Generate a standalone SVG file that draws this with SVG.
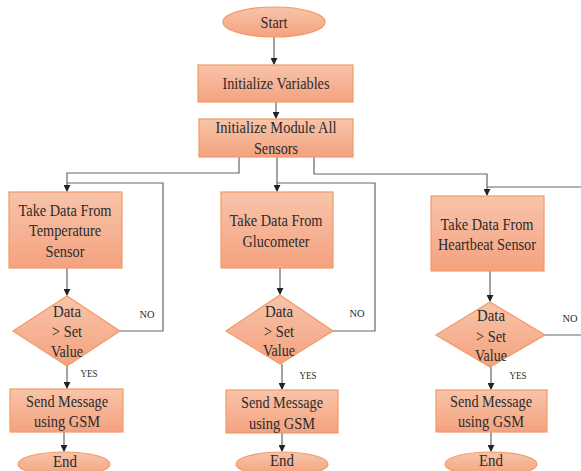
<svg xmlns="http://www.w3.org/2000/svg" width="581" height="471" viewBox="0 0 581 471">
<defs>
<linearGradient id="g" x1="0" y1="0" x2="0" y2="1">
<stop offset="0" stop-color="#f8c4aa"/>
<stop offset="1" stop-color="#f4a27f"/>
</linearGradient>
<marker id="ah" viewBox="0 0 8 8" refX="7" refY="4" markerWidth="7" markerHeight="7" markerUnits="userSpaceOnUse" orient="auto">
<path d="M0,0 L8,4 L0,8 z" fill="#222"/>
</marker>
</defs>
<style>
.s{fill:url(#g);stroke:#f29a66;stroke-width:1.2}
.t{font-family:"Liberation Serif","Times New Roman",serif;font-size:16px;fill:#2b2b2b;text-anchor:middle}
.l{font-family:"Liberation Serif","Times New Roman",serif;font-size:11px;fill:#2b2b2b;text-anchor:middle}
.c{fill:none;stroke:#666;stroke-width:1.2}
.a{marker-end:url(#ah)}
</style>
<rect width="581" height="471" fill="#fff"/>
<g id="connectors">
<path class="c a" d="M274,37 V64"/>
<path class="c a" d="M276,102 V118"/>
<path class="c a" d="M239,157 V173 H67 V191"/>
<path class="c a" d="M277,157 V191"/>
<path class="c a" d="M314,157 V174 H487 V195"/>
<path class="c a" d="M67,268 V295"/>
<path class="c" d="M120,331 H163 V183 H67"/>
<path class="c a" d="M67,366 V388"/>
<path class="c a" d="M64,432 V451"/>
<path class="c a" d="M280,268 V294"/>
<path class="c" d="M333,331 H375 V183 H277"/>
<path class="c a" d="M282,364 V389"/>
<path class="c a" d="M282,433 V451"/>
<path class="c a" d="M490,271 V301"/>
<path class="c" d="M545,335 H581"/>
<path class="c" d="M581,187 H487"/>
<path class="c a" d="M491,367 V389"/>
<path class="c a" d="M491,432 V451"/>
</g>
<g id="start"><ellipse class="s" cx="274" cy="22" rx="51" ry="15"/><text class="t" x="274" y="28" textLength="27" lengthAdjust="spacingAndGlyphs">Start</text></g>
<g id="init-vars"><rect class="s" x="198" y="65" width="155" height="37"/><text class="t" x="276" y="89" textLength="107" lengthAdjust="spacingAndGlyphs">Initialize Variables</text></g>
<g id="init-module"><rect class="s" x="199" y="119" width="154" height="38"/><text class="t" x="276" y="133" textLength="121" lengthAdjust="spacingAndGlyphs">Initialize Module All</text><text class="t" x="276" y="154" textLength="44" lengthAdjust="spacingAndGlyphs">Sensors</text></g>
<g id="temp"><rect class="s" x="9" y="192" width="113" height="76"/><text class="t" x="65" y="216" textLength="93" lengthAdjust="spacingAndGlyphs">Take Data From</text><text class="t" x="65" y="236" textLength="72" lengthAdjust="spacingAndGlyphs">Temperature</text><text class="t" x="65" y="257" textLength="39" lengthAdjust="spacingAndGlyphs">Sensor</text></g>
<g id="gluco"><rect class="s" x="221" y="192" width="112" height="76"/><text class="t" x="276" y="226" textLength="93" lengthAdjust="spacingAndGlyphs">Take Data From</text><text class="t" x="276" y="247" textLength="67" lengthAdjust="spacingAndGlyphs">Glucometer</text></g>
<g id="heart"><rect class="s" x="431" y="196" width="113" height="75"/><text class="t" x="487" y="230" textLength="93" lengthAdjust="spacingAndGlyphs">Take Data From</text><text class="t" x="487" y="250" textLength="98" lengthAdjust="spacingAndGlyphs">Heartbeat Sensor</text></g>
<g id="dec1"><polygon class="s" points="67,296 120,331 67,366 13,331"/><text class="t" x="67" y="317" textLength="28" lengthAdjust="spacingAndGlyphs">Data</text><text class="t" x="67" y="337" textLength="30" lengthAdjust="spacingAndGlyphs">&gt; Set</text><text class="t" x="67" y="357" textLength="32" lengthAdjust="spacingAndGlyphs">Value</text></g>
<g id="dec2"><polygon class="s" points="280,295 333,331 280,364 226,331"/><text class="t" x="279" y="317" textLength="28" lengthAdjust="spacingAndGlyphs">Data</text><text class="t" x="279" y="337" textLength="30" lengthAdjust="spacingAndGlyphs">&gt; Set</text><text class="t" x="279" y="356" textLength="32" lengthAdjust="spacingAndGlyphs">Value</text></g>
<g id="dec3"><polygon class="s" points="490,302 545,335 490,367 436,335"/><text class="t" x="491" y="321" textLength="28" lengthAdjust="spacingAndGlyphs">Data</text><text class="t" x="491" y="342" textLength="30" lengthAdjust="spacingAndGlyphs">&gt; Set</text><text class="t" x="491" y="361" textLength="32" lengthAdjust="spacingAndGlyphs">Value</text></g>
<g id="labels"><text class="l" x="147" y="318" textLength="15" lengthAdjust="spacingAndGlyphs">NO</text><text class="l" x="357" y="317" textLength="15" lengthAdjust="spacingAndGlyphs">NO</text><text class="l" x="570" y="322" textLength="15" lengthAdjust="spacingAndGlyphs">NO</text><text class="l" x="89" y="377" textLength="17" lengthAdjust="spacingAndGlyphs">YES</text><text class="l" x="308" y="379" textLength="17" lengthAdjust="spacingAndGlyphs">YES</text><text class="l" x="518" y="379" textLength="17" lengthAdjust="spacingAndGlyphs">YES</text></g>
<g id="send1"><rect class="s" x="10" y="389" width="113" height="43"/><text class="t" x="67" y="407" textLength="82" lengthAdjust="spacingAndGlyphs">Send Message</text><text class="t" x="67" y="427" textLength="66" lengthAdjust="spacingAndGlyphs">using GSM</text></g>
<g id="send2"><rect class="s" x="226" y="390" width="112" height="43"/><text class="t" x="282" y="408" textLength="82" lengthAdjust="spacingAndGlyphs">Send Message</text><text class="t" x="282" y="429" textLength="66" lengthAdjust="spacingAndGlyphs">using GSM</text></g>
<g id="send3"><rect class="s" x="436" y="390" width="111" height="42"/><text class="t" x="491" y="407" textLength="82" lengthAdjust="spacingAndGlyphs">Send Message</text><text class="t" x="491" y="427" textLength="66" lengthAdjust="spacingAndGlyphs">using GSM</text></g>
<g id="end1"><ellipse class="s" cx="64" cy="464" rx="46" ry="12"/><text class="t" x="65" y="467" textLength="24" lengthAdjust="spacingAndGlyphs">End</text></g>
<g id="end2"><ellipse class="s" cx="282" cy="464" rx="46" ry="12"/><text class="t" x="282" y="466" textLength="24" lengthAdjust="spacingAndGlyphs">End</text></g>
<g id="end3"><ellipse class="s" cx="491" cy="464" rx="46" ry="12"/><text class="t" x="491" y="466" textLength="24" lengthAdjust="spacingAndGlyphs">End</text></g>
</svg>
